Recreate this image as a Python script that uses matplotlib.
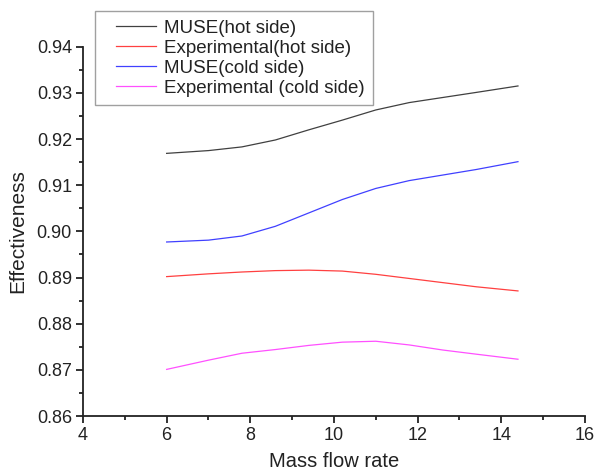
import numpy as np
import matplotlib.pyplot as plt
from matplotlib.ticker import MultipleLocator
from matplotlib.legend_handler import HandlerLine2D

plt.rcParams['font.family'] = ['Liberation Sans', 'DejaVu Sans']

# dane
przeplyw = [6, 7, 7.8, 8.6, 9.4, 10.2, 11, 11.8, 12.6, 13.4, 14.4]
muse_hot = [0.9169, 0.9175, 0.9183, 0.9198, 0.9220, 0.9241, 0.9263, 0.9279, 0.9290, 0.9301, 0.9315]
exp_hot = [0.8902, 0.8908, 0.8912, 0.8915, 0.8916, 0.8914, 0.8907, 0.8898, 0.8889, 0.8880, 0.8871]
muse_cold = [0.8977, 0.8981, 0.8990, 0.9011, 0.9040, 0.9069, 0.9093, 0.9110, 0.9122, 0.9134, 0.9151]
exp_cold = [0.8701, 0.8721, 0.8736, 0.8744, 0.8753, 0.8760, 0.8762, 0.8754, 0.8743, 0.8734, 0.8723]

fig = plt.figure(figsize=(5.95, 4.72), dpi=100)
ax = fig.add_axes([0.1395, 0.1186, 0.8435, 0.7824])

ax.plot(przeplyw, muse_hot, color='#404040', lw=0.9, label='MUSE(hot side)')
ax.plot(przeplyw, exp_hot, color='#ff4040', lw=0.9, label='Experimental(hot side)')
ax.plot(przeplyw, muse_cold, color='#4040ff', lw=0.9, label='MUSE(cold side)')
ax.plot(przeplyw, exp_cold, color='#ff50ff', lw=0.9, label='Experimental (cold side)')

ax.set_xlim(4, 16)
ax.set_ylim(0.86, 0.94)
ax.xaxis.set_major_locator(MultipleLocator(2))
ax.xaxis.set_minor_locator(MultipleLocator(1))
ax.yaxis.set_major_locator(MultipleLocator(0.01))
ax.yaxis.set_minor_locator(MultipleLocator(0.005))
ax.yaxis.set_major_formatter(plt.FormatStrFormatter('%.2f'))

ax.spines['top'].set_visible(False)
ax.spines['right'].set_visible(False)
ax.spines['left'].set_linewidth(1.3)
ax.spines['bottom'].set_linewidth(1.3)
ax.spines['left'].set_color('#222222')
ax.spines['bottom'].set_color('#222222')
ax.tick_params(which='major', direction='out', length=5, width=1.3, labelsize=13,
               colors='#222222', pad=3)
ax.tick_params(which='minor', direction='out', length=3, width=1.3, colors='#222222')

ax.set_xlabel('Mass flow rate', fontsize=14.5, color='#222222', labelpad=6)
ax.set_ylabel('Effectiveness', fontsize=15, color='#222222', labelpad=7)

leg = ax.legend(loc='upper left', bbox_to_anchor=(95 / 595, 1 - 11 / 472), bbox_transform=fig.transFigure,
                fontsize=13.5, frameon=True, fancybox=False, edgecolor='#888888', handlelength=2.8,
                borderpad=0.45, labelspacing=0.16, handletextpad=0.45, borderaxespad=0,
                handler_map={plt.Line2D: HandlerLine2D(xpad=0.65)})
leg.get_frame().set_linewidth(1.0)
for t in leg.get_texts():
    t.set_color('#222222')

plt.savefig('out.png', dpi=100)
